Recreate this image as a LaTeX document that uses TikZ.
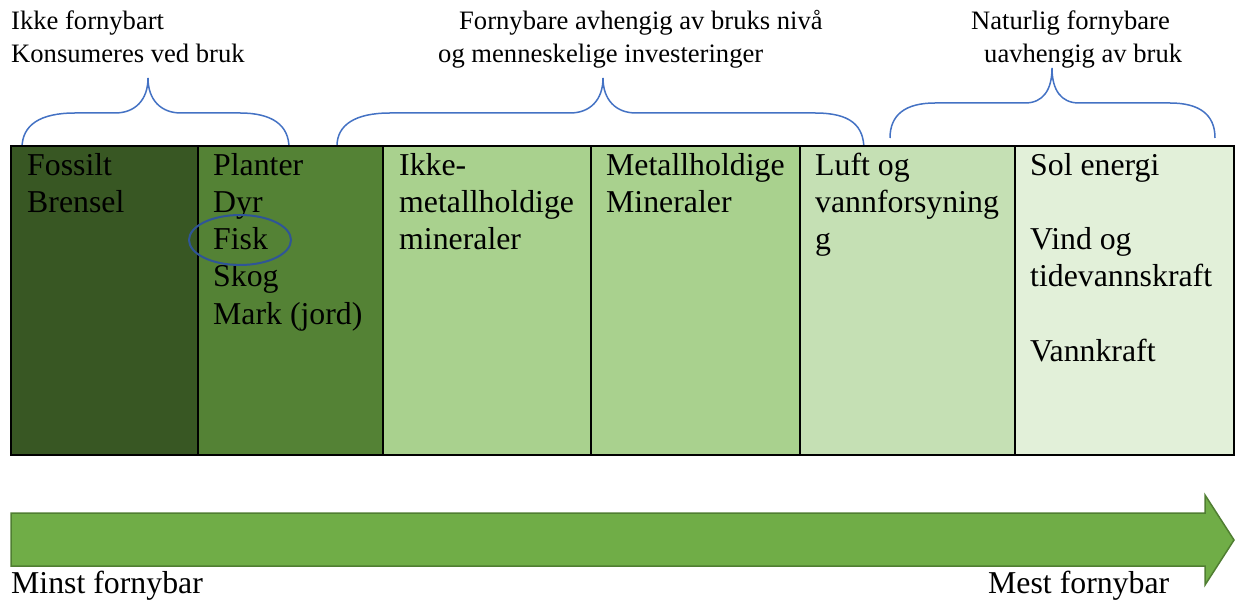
\documentclass[tikz,border=0pt]{standalone}
\usepackage{fontspec}
\setmainfont{Liberation Serif}
\definecolor{cA}{HTML}{385723}
\definecolor{cB}{HTML}{548235}
\definecolor{cC}{HTML}{A9D18E}
\definecolor{cD}{HTML}{C5E0B4}
\definecolor{cE}{HTML}{E2F0D9}
\definecolor{arrfill}{HTML}{70AD47}
\definecolor{arrline}{HTML}{507E32}
\definecolor{brace}{HTML}{4472C4}
\definecolor{ring}{HTML}{2F5597}
\tikzset{
  cell/.style={draw=black, line width=2pt, inner sep=0pt, outer sep=0pt, anchor=north west, minimum height=309pt},
  celltxt/.style={font=\fontsize{31.8}{37}\selectfont, inner sep=0pt, anchor=base west},
  toptxt/.style={font=\fontsize{26.6}{31}\selectfont, inner sep=0pt, anchor=base west},
  bottxt/.style={font=\fontsize{31.8}{37}\selectfont, inner sep=0pt, anchor=base west},
  bracestyle/.style={draw=brace, line width=1.5pt},
}
\begin{document}
\begin{tikzpicture}[x=1pt,y=-1pt]
\useasboundingbox[fill=white] (0,0) rectangle (1236,601);
% top labels
\node[toptxt] (t1a) at (11,30) {Ikke fornybart};
\node[toptxt] (t1b) at (11,63) {Konsumeres ved bruk};
\node[toptxt] (t2a) at (459,30) {Fornybare avhengig av bruks nivå};
\node[toptxt] (t2b) at (438,63) {og menneskelige investeringer};
\node[toptxt] (t3a) at (971,30) {Naturlig fornybare};
\node[toptxt] (t3b) at (984,63) {uavhengig av bruk};
% braces
\draw[bracestyle] (22,148) .. controls (22,125) and (40,113) .. (75,113) -- (115,113) .. controls (135,113) and (148,100) .. (148,78) .. controls (148,100) and (161,113) .. (181,113) -- (240,113) .. controls (272,113) and (289,125) .. (289,148);
\draw[bracestyle] (337,146) .. controls (337,125) and (355,113) .. (390,113) -- (570,113) .. controls (590,113) and (603,100) .. (603,78) .. controls (603,100) and (616,113) .. (636,113) -- (815,113) .. controls (850,113) and (864,125) .. (864,150);
\draw[bracestyle] (890,138) .. controls (890,115) and (905,103) .. (935,103) -- (1025,103) .. controls (1043,103) and (1052,90) .. (1052,68) .. controls (1052,90) and (1061,103) .. (1079,103) -- (1170,103) .. controls (1200,103) and (1215,115) .. (1215,138);
% cells
\node[cell, fill=cA, minimum width=187pt] (c1) at (11,146) {};
\node[cell, fill=cB, minimum width=185pt] (c2) at (198,146) {};
\node[cell, fill=cC, minimum width=208pt] (c3) at (383,146) {};
\node[cell, fill=cC, minimum width=209pt] (c4) at (591,146) {};
\node[cell, fill=cD, minimum width=215pt] (c5) at (800,146) {};
\node[cell, fill=cE, minimum width=219pt] (c6) at (1015,146) {};
% cell texts
\foreach \t [count=\i] in {Fossilt,Brensel}
  \node[celltxt] (a\i) at (27,{176+37*(\i-1)}) {\t};
\foreach \t [count=\i] in {Planter,Dyr,Fisk,Skog,Mark (jord)}
  \node[celltxt] (b\i) at (213,{176+37*(\i-1)}) {\t};
\foreach \t [count=\i] in {Ikke-,metallholdige,mineraler}
  \node[celltxt] (d\i) at (399,{176+37*(\i-1)}) {\t};
\foreach \t [count=\i] in {Metallholdige,Mineraler}
  \node[celltxt] (e\i) at (606,{176+37*(\i-1)}) {\t};
\foreach \t [count=\i] in {Luft og,vannforsyning,g}
  \node[celltxt] (f\i) at (815,{176+37*(\i-1)}) {\t};
\node[celltxt] (g1) at (1030,176) {Sol energi};
\node[celltxt] (g2) at (1030,250) {Vind og};
\node[celltxt] (g3) at (1030,287) {tidevannskraft};
\node[celltxt] (g4) at (1030,361) {Vannkraft};
% ring around Fisk
\draw[ring, line width=2pt] (240,240) ellipse [x radius=51, y radius=25];
% big arrow
\draw[fill=arrfill, draw=arrline, line width=1.5pt, line join=miter]
  (11,513) -- (1205,513) -- (1205,495) -- (1234,540) -- (1205,585) -- (1205,566) -- (11,566) -- cycle;
\node[bottxt] (m1) at (11,593) {Minst fornybar};
\node[bottxt] (m2) at (988,593) {Mest fornybar};
\end{tikzpicture}
\end{document}
